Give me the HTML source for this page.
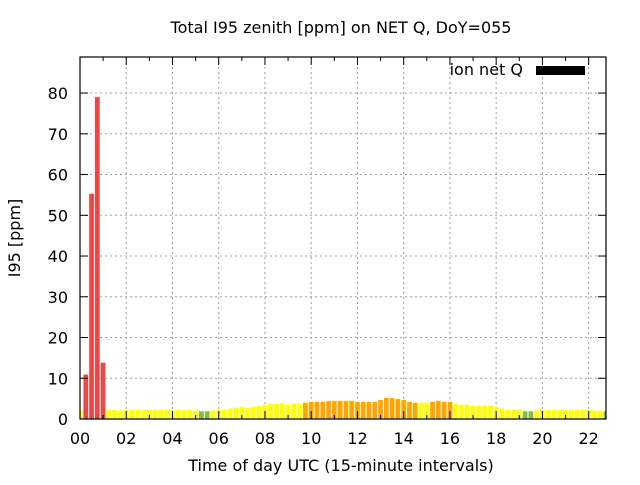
<!DOCTYPE html>
<html><head><meta charset="utf-8"><style>
body{margin:0;background:#fff;}
svg text{font-family:"DejaVu Sans","Liberation Sans",sans-serif;fill:#000;}
</style></head><body>
<svg id="chart" width="640" height="480" xmlns="http://www.w3.org/2000/svg">
<rect width="640" height="480" fill="#fff"/>
<text x="341" y="33" text-anchor="middle" font-size="16">Total I95 zenith [ppm] on NET Q, DoY=055</text>
<g id="grid"></g>
<g id="bars"></g>
<g id="axes"></g>
<text transform="translate(20,238) rotate(-90)" text-anchor="middle" font-size="16">I95 [ppm]</text>
<text x="341" y="471" text-anchor="middle" font-size="16">Time of day UTC (15-minute intervals)</text>
<g>
<text x="523" y="75" text-anchor="end" font-size="16">ion net Q</text>
<rect x="536" y="66" width="49" height="9" fill="#000"/>
</g>
</svg>
<script>
const values = [2.2,10.9,55.3,79,13.8,2.2,2.2,2.0,2.2,2.2,2.2,2.2,2.2,2.2,2.2,2.2,2.2,2.2,2.2,2.2,
2.0,1.9,1.9,2.0,2.2,2.2,2.45,2.7,2.9,2.7,2.9,3.2,3.4,3.7,3.7,3.85,3.4,3.7,3.7,4.0,
4.2,4.2,4.2,4.4,4.4,4.4,4.4,4.4,4.2,4.2,4.2,4.2,4.66,5.15,5.15,4.9,4.66,4.2,4.0,3.9,
3.9,4.2,4.4,4.2,4.2,3.7,3.4,3.4,3.2,3.2,3.2,3.2,2.9,2.45,2.2,2.2,2.2,1.9,1.9,2.0,
2.2,2.2,2.2,2.2,2.2,2.2,2.2,2.2,2.2,2.0,2.0,1.9];
const xTickLabels = ["00","02","04","06","08","10","12","14","16","18","20","22"];
const yTickLabels = [0,10,20,30,40,50,60,70,80];
const X0=80,X1=606,Y0=419,Y1=57,XMAX=22.75,YMAX=88.85;
const xs=h=>X0+(h/XMAX)*(X1-X0);
const ys=v=>Y0-(v/YMAX)*(Y0-Y1);
const NS="http://www.w3.org/2000/svg";
function mk(tag,attrs,parent){const e=document.createElementNS(NS,tag);for(const k in attrs)e.setAttribute(k,attrs[k]);parent.appendChild(e);return e;}
const grid=document.getElementById('grid'),bars=document.getElementById('bars'),axes=document.getElementById('axes');
function color(v){return v<1.95?'#80c040':v<3.95?'#ffff00':v<10?'#ffa500':'#f04545';}
xTickLabels.forEach(l=>{const x=xs(parseInt(l,10));
 if(x>X0+1){const g=mk('line',{x1:x,x2:x,y1:Y1,y2:Y0,stroke:'#a0a0a0','stroke-dasharray':'2,3'},grid);
 }
 const t=mk('text',{x:x,y:Y0+25,'text-anchor':'middle','font-size':'16'},axes);t.textContent=l;
 
});
yTickLabels.forEach(v=>{const y=ys(v);
 if(v>0){const g=mk('line',{x1:X0,x2:X1,y1:y,y2:y,stroke:'#a0a0a0','stroke-dasharray':'2,3'},grid);
 }
 const t=mk('text',{x:X0-12,y:y+6,'text-anchor':'end','font-size':'16'},axes);t.textContent=v;
 
 mk('line',{x1:X0,x2:X0+8,y1:y,y2:y,stroke:'#000'},axes);mk('line',{x1:X1,x2:X1-8,y1:y,y2:y,stroke:'#000'},axes);
});
for(let h=0;h<=22;h++){const x=xs(h),L=h%2?4:8;
 mk('line',{x1:x,x2:x,y1:Y0,y2:Y0-L,stroke:'#000'},axes);mk('line',{x1:x,x2:x,y1:Y1,y2:Y1+L,stroke:'#000'},axes);}
const bw=(X1-X0)/(XMAX*4)*0.82;
values.forEach((v,i)=>{const cx=xs(i*0.25);let x=cx-bw/2,w=bw;
 if(x<X0){w-=X0-x;x=X0;} if(x+w>X1){w=X1-x;} if(w<=0)return;
 const r=mk('rect',{x:x,y:ys(v),width:w,height:Y0-ys(v),fill:color(v)},bars);
 
});
const b=mk('rect',{x:X0,y:Y1,width:X1-X0,height:Y0-Y1,fill:'none',stroke:'#000','stroke-width':1.2},axes);

</script>
</body></html>
